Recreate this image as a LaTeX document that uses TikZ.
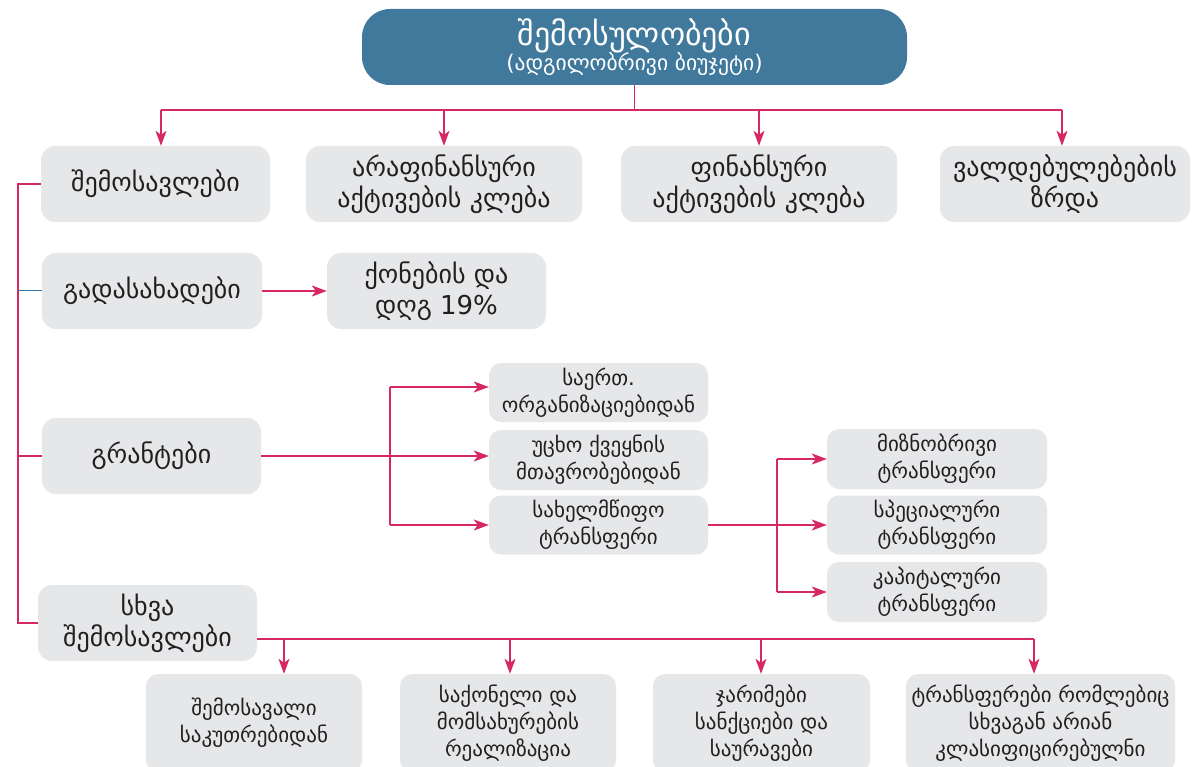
\documentclass[tikz,border=0pt]{standalone}
\usepackage{fontspec}
\setmainfont{DejaVu Sans}
\usetikzlibrary{arrows.meta}
\definecolor{boxgray}{RGB}{230,231,233}
\definecolor{topblue}{RGB}{65,121,156}
\definecolor{linkred}{RGB}{214,40,97}
\definecolor{stubblue}{RGB}{52,120,176}
\definecolor{txt}{RGB}{35,31,32}
\begin{document}
\begin{tikzpicture}[x=1pt,y=-1pt,
  gbox/.style={fill=boxgray, rounded corners=14pt, inner sep=0pt, align=center, text=txt, font=\fontsize{26}{31}\selectfont},
  sbox/.style={gbox, rounded corners=12pt, font=\fontsize{21}{27}\selectfont},
  ln/.style={draw=linkred, line width=1.3pt},
  arr/.style={ln, -{Stealth[length=15pt,width=11pt,inset=4pt]}}]
\clip (0,0) rectangle (1194,767);
\fill[white] (0,0) rectangle (1194,767);

\node[fill=topblue, rounded corners=28pt, inner sep=0pt, align=center, text=white, minimum width=545pt, minimum height=76pt] (top) at (634.5,47)
  {\fontsize{32}{30}\selectfont შემოსულობები\\[-1pt]\fontsize{21.5}{24}\selectfont (ადგილობრივი ბიუჯეტი)};

\node[gbox, minimum width=229pt, minimum height=76pt] (n1) at (155.5,184) {შემოსავლები};
\node[gbox, minimum width=276pt, minimum height=76pt] (n2) at (444,184) {არაფინანსური\\აქტივების კლება};
\node[gbox, minimum width=276pt, minimum height=76pt] (n3) at (759,184) {ფინანსური\\აქტივების კლება};
\node[gbox, minimum width=250pt, minimum height=76pt] (n4) at (1065,184) {ვალდებულებების\\ზრდა};

\node[gbox, minimum width=220pt, minimum height=76pt] (tax) at (152,291) {გადასახადები};
\node[gbox, minimum width=219pt, minimum height=76pt] (prop) at (436.5,291) {ქონების და\\დღგ 19\%};

\node[gbox, minimum width=219pt, minimum height=76pt] (gr) at (151.5,456) {გრანტები};
\node[sbox, minimum width=219pt, minimum height=59pt] (g1) at (598.5,392.5) {საერთ.\\ორგანიზაციებიდან};
\node[sbox, minimum width=219pt, minimum height=60pt] (g2) at (598.5,460) {უცხო ქვეყნის\\მთავრობებიდან};
\node[sbox, minimum width=219pt, minimum height=59pt] (g3) at (598.5,525) {სახელმწიფო\\ტრანსფერი};

\node[sbox, minimum width=220pt, minimum height=60pt] (t1) at (937,459) {მიზნობრივი\\ტრანსფერი};
\node[sbox, minimum width=220pt, minimum height=59pt] (t2) at (937,525) {სპეციალური\\ტრანსფერი};
\node[sbox, minimum width=220pt, minimum height=60pt] (t3) at (937,592) {კაპიტალური\\ტრანსფერი};

\node[gbox, minimum width=219pt, minimum height=76pt] (sx) at (147.5,623) {სხვა\\შემოსავლები};

\node[sbox, minimum width=216pt, minimum height=98pt] (b1) at (254,723) {შემოსავალი\\საკუთრებიდან};
\node[sbox, minimum width=216pt, minimum height=98pt] (b2) at (508,723) {საქონელი და\\მომსახურების\\რეალიზაცია};
\node[sbox, minimum width=217pt, minimum height=98pt] (b3) at (761.5,723) {ჯარიმები\\სანქციები და\\საურავები};
\node[sbox, minimum width=269pt, minimum height=98pt] (b4) at (1040.5,723) {ტრანსფერები რომლებიც\\სხვაგან არიან\\კლასიფიცირებულნი};

% top connectors
\coordinate (tj) at (634.5,110);
\coordinate (hl) at (161,110);
\coordinate (hr) at (1062,110);
\draw[ln] (top.south) -- (tj);
\draw[ln] (hl) -- (hr);
\draw[arr] (hl) -- (hl|-n1.north);
\draw[arr] (tj-|n2.north) -- (n2.north);
\draw[arr] (tj-|n3.north) -- (n3.north);
\draw[arr] (hr) -- (hr|-n4.north);

% left spine
\coordinate (L1) at (18,184);
\coordinate (L4) at (18,623);
\draw[ln] (n1.west) -- (L1) -- (L4) -- (sx.west);
\draw[draw=stubblue, line width=1pt] (L1|-tax.west) -- (tax.west);
\draw[ln] (L1|-gr.west) -- (gr.west);
\draw[arr] (tax.east) -- (prop.west);

% grants
\coordinate (gv1) at (390,387);
\coordinate (gv3) at (390,525);
\draw[ln] (gv1) -- (gv3);
\draw[arr] (gr.east) -- (gr.east-|g2.west);
\draw[arr] (gv1) -- (gv1-|g1.west);
\draw[arr] (gv3) -- (gv3-|g3.west);

% transfers
\coordinate (tv1) at (777,459);
\coordinate (tv3) at (777,592);
\draw[ln] (g3.east) -- (g3.east-|tv1);
\draw[ln] (tv1) -- (tv3);
\draw[arr] (tv1) -- (t1.west);
\draw[arr] (tv1|-t2.west) -- (t2.west);
\draw[arr] (tv3) -- (t3.west);

% other income
\coordinate (so) at ([yshift=-16pt]sx.east);
\coordinate (sr) at (1034,639);
\coordinate (a1) at (284,639);
\coordinate (a2) at (510,639);
\coordinate (a3) at (761,639);
\draw[ln] (so) -- (sr);
\draw[arr] (a1) -- (a1|-b1.north);
\draw[arr] (a2) -- (a2|-b2.north);
\draw[arr] (a3) -- (a3|-b3.north);
\draw[arr] (sr) -- (sr|-b4.north);
\end{tikzpicture}
\end{document}
